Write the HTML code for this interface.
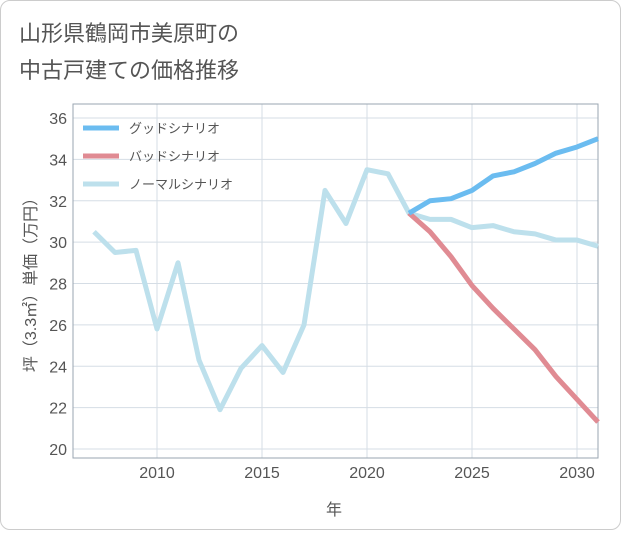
<!DOCTYPE html>
<html><head><meta charset="utf-8">
<style>
body{margin:0;background:#fff;}
#card{position:absolute;left:0;top:0;width:619px;height:528px;border:1px solid #ccc;border-radius:10px;background:#fff;}
.t{font-family:"Liberation Sans","Noto Sans CJK JP",sans-serif;}
</style></head>
<body>
<div id="card">
<svg width="621" height="530" id="svg">
<text class="t" x="18" y="40" font-size="22" fill="#555">山形県鶴岡市美原町の</text>
<text class="t" x="18" y="77" font-size="22" fill="#555">中古戸建ての価格推移</text>
<text class="t" transform="translate(35,280) rotate(-90)" text-anchor="middle" font-size="16" fill="#555">坪（3.3㎡）単価（万円）</text>
<text class="t" x="333" y="514" text-anchor="middle" font-size="16" fill="#555">年</text>
<g id="grid"></g><g id="ticks"></g><g id="lines"></g><g id="legend"></g>
</svg></div>
<script>
const years=[2007,2008,2009,2010,2011,2012,2013,2014,2015,2016,2017,2018,2019,2020,2021,2022,2023,2024,2025,2026,2027,2028,2029,2030,2031];
const normalVals=[30.5,29.5,29.6,25.8,29.0,24.3,21.9,23.9,25.0,23.7,26.0,32.5,30.9,33.5,33.3,31.4,31.1,31.1,30.7,30.8,30.5,30.4,30.1,30.1,29.8];
const goodYears=[2022,2023,2024,2025,2026,2027,2028,2029,2030,2031];
const goodVals=[31.4,32.0,32.1,32.5,33.2,33.4,33.8,34.3,34.6,35.0];
const badVals=[31.4,30.5,29.3,27.9,26.8,25.8,24.8,23.5,22.4,21.3];
const yTicks=[20,22,24,26,28,30,32,34,36];
const xTicks=[2010,2015,2020,2025,2030];
const legendLabels=["グッドシナリオ","バッドシナリオ","ノーマルシナリオ"];
const colors=["#6bbcf0","#e08b93","#bde0ec"];
const L=72,R=597,T=103,B=457;
const x=y=>L+(y-2006)*(R-L)/25;
const yS=v=>448-(v-20)*(448-117)/16;
const NS="http://www.w3.org/2000/svg";
function mk(tag,attrs,parent){const e=document.createElementNS(NS,tag);for(const k in attrs)e.setAttribute(k,attrs[k]);document.getElementById(parent).appendChild(e);return e;}
yTicks.forEach(v=>{
 const l=mk('line',{x1:L,x2:R,y1:yS(v),y2:yS(v),stroke:'#d5dde5','stroke-width':1},'grid');
 
 
 const t=mk('text',{x:L-6,y:yS(v)+6,'text-anchor':'end','font-size':16,fill:'#555',class:'t'},'ticks');t.textContent=v;
 
 
});
xTicks.forEach(v=>{
 const l=mk('line',{x1:x(v),x2:x(v),y1:T,y2:B,stroke:'#d5dde5','stroke-width':1},'grid');
 
 
 const t=mk('text',{x:x(v),y:B+20,'text-anchor':'middle','font-size':16,fill:'#555',class:'t'},'ticks');t.textContent=v;
 
 
});
const fr=mk('rect',{x:L,y:T,width:R-L,height:B-T,fill:'none',stroke:'#9aa5b0','stroke-width':1},'grid');


function line(xs,vs,c,name){const p=mk('polyline',{points:xs.map((yr,i)=>x(yr)+','+yS(vs[i])).join(' '),fill:'none',stroke:c,'stroke-width':5,'stroke-linejoin':'round'},'lines');
 
 }
line(years,normalVals,colors[2],'normal-scenario-line');
line(goodYears,badVals,colors[1],'bad-scenario-line');
line(goodYears,goodVals,colors[0],'good-scenario-line');
legendLabels.forEach((s,i)=>{
 const yy=127+i*28;
 const l=mk('line',{x1:82,x2:118,y1:yy,y2:yy,stroke:colors[i],'stroke-width':5},'legend');
 
 
 const t=mk('text',{x:128,y:yy+5,'font-size':13,fill:'#555',class:'t'},'legend');t.textContent=s;
 
 
});
</script>
</body></html>
